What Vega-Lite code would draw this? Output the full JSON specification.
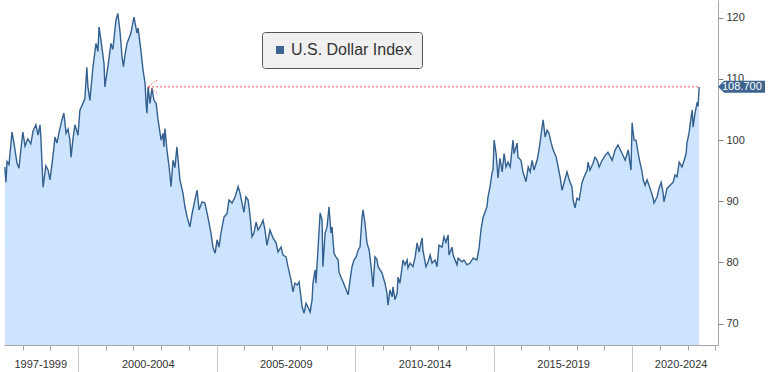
{
 "$schema": "https://vega.github.io/schema/vega-lite/v6.json",
 "width": 714,
 "height": 345,
 "autosize": "none",
 "padding": {"left": 4, "top": 0, "right": 50, "bottom": 27},
 "background": "white",
 "config": {"view": {"stroke": null}, "font": "Liberation Sans"},
 "resolve": {"axis": {"x": "independent"}},
 "datasets": {
  "dxy": [
   {"year":1997.36,"value":95.6},{"year":1997.40,"value":93.1},{"year":1997.44,"value":96.5},{"year":1997.51,"value":96.0},{"year":1997.62,"value":101.3},{"year":1997.69,"value":99.5},{"year":1997.80,"value":96.2},{"year":1997.87,"value":95.4},{"year":1997.94,"value":98.5},{"year":1998.01,"value":101.3},{"year":1998.09,"value":99.0},{"year":1998.19,"value":100.2},{"year":1998.30,"value":99.4},{"year":1998.38,"value":101.5},{"year":1998.48,"value":102.5},{"year":1998.56,"value":100.8},{"year":1998.63,"value":102.5},{"year":1998.66,"value":100.5},{"year":1998.74,"value":92.3},{"year":1998.84,"value":95.8},{"year":1998.92,"value":95.1},{"year":1998.99,"value":93.5},
   {"year":1999.10,"value":97.5},{"year":1999.17,"value":100.5},{"year":1999.24,"value":99.5},{"year":1999.31,"value":101.1},{"year":1999.42,"value":103.3},{"year":1999.49,"value":104.4},{"year":1999.57,"value":101.1},{"year":1999.64,"value":101.8},{"year":1999.71,"value":100.0},{"year":1999.75,"value":97.2},{"year":1999.82,"value":100.2},{"year":1999.89,"value":102.5},
   {"year":2000.00,"value":100.8},{"year":2000.07,"value":104.9},{"year":2000.18,"value":106.0},{"year":2000.25,"value":106.8},{"year":2000.32,"value":111.9},{"year":2000.36,"value":108.7},{"year":2000.43,"value":106.5},{"year":2000.54,"value":111.9},{"year":2000.65,"value":115.8},{"year":2000.72,"value":114.5},{"year":2000.76,"value":118.5},{"year":2000.83,"value":116.3},{"year":2000.94,"value":112.5},{"year":2000.97,"value":108.7},
   {"year":2001.08,"value":112.0},{"year":2001.19,"value":115.8},{"year":2001.26,"value":114.8},{"year":2001.37,"value":119.6},{"year":2001.44,"value":120.7},{"year":2001.52,"value":117.6},{"year":2001.59,"value":113.6},{"year":2001.64,"value":112.0},{"year":2001.70,"value":114.0},{"year":2001.77,"value":115.8},{"year":2001.91,"value":117.5},
   {"year":2002.02,"value":120.1},{"year":2002.13,"value":117.5},{"year":2002.17,"value":118.3},{"year":2002.27,"value":114.7},{"year":2002.35,"value":111.4},{"year":2002.42,"value":109.3},{"year":2002.46,"value":106.0},{"year":2002.49,"value":104.4},{"year":2002.53,"value":108.7},{"year":2002.60,"value":106.0},{"year":2002.67,"value":108.5},{"year":2002.74,"value":106.5},{"year":2002.82,"value":106.0},{"year":2002.89,"value":103.3},
   {"year":2003.00,"value":100.0},{"year":2003.07,"value":101.1},{"year":2003.10,"value":98.9},{"year":2003.14,"value":101.9},{"year":2003.21,"value":98.4},{"year":2003.29,"value":95.6},{"year":2003.36,"value":92.4},{"year":2003.43,"value":96.7},{"year":2003.50,"value":95.5},{"year":2003.57,"value":98.9},{"year":2003.68,"value":93.5},{"year":2003.79,"value":91.3},{"year":2003.86,"value":89.1},{"year":2003.94,"value":87.4},
   {"year":2004.04,"value":85.8},{"year":2004.12,"value":88.0},{"year":2004.22,"value":90.2},{"year":2004.30,"value":91.8},{"year":2004.37,"value":88.6},{"year":2004.48,"value":89.9},{"year":2004.58,"value":89.7},{"year":2004.69,"value":87.4},{"year":2004.80,"value":84.8},{"year":2004.87,"value":82.5},{"year":2004.95,"value":81.5},
   {"year":2005.02,"value":83.7},{"year":2005.09,"value":82.5},{"year":2005.16,"value":84.8},{"year":2005.27,"value":87.4},{"year":2005.38,"value":88.0},{"year":2005.45,"value":90.2},{"year":2005.56,"value":89.7},{"year":2005.67,"value":90.7},{"year":2005.78,"value":92.4},{"year":2005.85,"value":91.3},{"year":2005.92,"value":89.7},{"year":2005.99,"value":88.2},
   {"year":2006.06,"value":90.7},{"year":2006.14,"value":90.2},{"year":2006.21,"value":87.7},{"year":2006.28,"value":84.2},{"year":2006.35,"value":84.8},{"year":2006.43,"value":86.6},{"year":2006.50,"value":85.3},{"year":2006.57,"value":85.8},{"year":2006.68,"value":86.9},{"year":2006.75,"value":85.3},{"year":2006.82,"value":82.8},{"year":2006.93,"value":85.3},
   {"year":2007.04,"value":84.0},{"year":2007.15,"value":83.2},{"year":2007.22,"value":81.7},{"year":2007.33,"value":82.5},{"year":2007.40,"value":81.2},{"year":2007.51,"value":80.9},{"year":2007.58,"value":79.3},{"year":2007.69,"value":77.1},{"year":2007.76,"value":75.2},{"year":2007.83,"value":76.6},{"year":2007.91,"value":76.3},{"year":2007.98,"value":76.8},
   {"year":2008.05,"value":74.3},{"year":2008.09,"value":72.7},{"year":2008.16,"value":71.7},{"year":2008.23,"value":73.3},{"year":2008.30,"value":72.7},{"year":2008.38,"value":71.9},{"year":2008.45,"value":73.9},{"year":2008.48,"value":76.6},{"year":2008.56,"value":78.8},{"year":2008.59,"value":76.6},{"year":2008.66,"value":82.0},{"year":2008.74,"value":88.1},{"year":2008.81,"value":86.9},{"year":2008.84,"value":79.3},{"year":2008.92,"value":84.8},{"year":2008.99,"value":85.8},
   {"year":2009.06,"value":89.1},{"year":2009.13,"value":84.8},{"year":2009.17,"value":85.8},{"year":2009.24,"value":81.5},{"year":2009.31,"value":80.9},{"year":2009.39,"value":80.4},{"year":2009.42,"value":78.4},{"year":2009.49,"value":77.6},{"year":2009.57,"value":76.8},{"year":2009.64,"value":76.0},{"year":2009.75,"value":74.7},{"year":2009.82,"value":77.1},{"year":2009.89,"value":79.3},{"year":2009.96,"value":80.4},
   {"year":2010.04,"value":80.9},{"year":2010.11,"value":82.0},{"year":2010.18,"value":82.5},{"year":2010.25,"value":87.2},{"year":2010.29,"value":88.6},{"year":2010.36,"value":86.4},{"year":2010.43,"value":83.2},{"year":2010.51,"value":82.0},{"year":2010.58,"value":79.3},{"year":2010.65,"value":76.0},{"year":2010.72,"value":80.9},{"year":2010.79,"value":80.5},{"year":2010.83,"value":79.3},{"year":2010.97,"value":78.3},
   {"year":2011.08,"value":76.6},{"year":2011.15,"value":75.0},{"year":2011.19,"value":73.0},{"year":2011.26,"value":75.5},{"year":2011.34,"value":74.4},{"year":2011.37,"value":76.0},{"year":2011.44,"value":73.9},{"year":2011.52,"value":75.0},{"year":2011.55,"value":77.6},{"year":2011.62,"value":76.6},{"year":2011.70,"value":79.3},{"year":2011.73,"value":80.4},{"year":2011.80,"value":79.6},{"year":2011.88,"value":80.4},{"year":2011.91,"value":79.1},{"year":2011.99,"value":79.9},
   {"year":2012.09,"value":79.3},{"year":2012.17,"value":80.9},{"year":2012.24,"value":83.2},{"year":2012.31,"value":81.7},{"year":2012.42,"value":84.0},{"year":2012.45,"value":82.0},{"year":2012.56,"value":79.3},{"year":2012.64,"value":80.1},{"year":2012.71,"value":81.2},{"year":2012.78,"value":79.9},{"year":2012.89,"value":80.4},{"year":2012.96,"value":79.3},
   {"year":2013.03,"value":82.8},{"year":2013.14,"value":82.5},{"year":2013.21,"value":84.2},{"year":2013.28,"value":83.3},{"year":2013.36,"value":84.5},{"year":2013.39,"value":81.2},{"year":2013.50,"value":82.5},{"year":2013.54,"value":81.2},{"year":2013.68,"value":79.6},{"year":2013.72,"value":80.7},{"year":2013.86,"value":80.1},{"year":2013.93,"value":80.4},
   {"year":2014.04,"value":79.6},{"year":2014.15,"value":79.9},{"year":2014.26,"value":80.7},{"year":2014.40,"value":80.4},{"year":2014.48,"value":82.5},{"year":2014.55,"value":85.5},{"year":2014.62,"value":87.3},{"year":2014.76,"value":89.1},{"year":2014.80,"value":90.7},{"year":2014.87,"value":92.3},{"year":2014.95,"value":94.8},{"year":2014.98,"value":95.1},
   {"year":2015.02,"value":100.0},{"year":2015.09,"value":97.8},{"year":2015.13,"value":95.6},{"year":2015.16,"value":93.8},{"year":2015.23,"value":97.0},{"year":2015.31,"value":94.8},{"year":2015.38,"value":97.8},{"year":2015.45,"value":95.6},{"year":2015.52,"value":96.4},{"year":2015.60,"value":95.6},{"year":2015.70,"value":100.0},{"year":2015.74,"value":97.8},{"year":2015.85,"value":99.5},{"year":2015.88,"value":97.2},{"year":2015.99,"value":96.7},
   {"year":2016.06,"value":94.8},{"year":2016.17,"value":93.2},{"year":2016.25,"value":95.6},{"year":2016.32,"value":94.8},{"year":2016.39,"value":96.7},{"year":2016.46,"value":95.1},{"year":2016.57,"value":96.7},{"year":2016.64,"value":98.4},{"year":2016.75,"value":102.1},{"year":2016.79,"value":103.3},{"year":2016.86,"value":100.5},{"year":2016.93,"value":101.6},
   {"year":2017.00,"value":101.1},{"year":2017.08,"value":99.5},{"year":2017.15,"value":98.4},{"year":2017.26,"value":97.2},{"year":2017.33,"value":95.6},{"year":2017.40,"value":94.0},{"year":2017.47,"value":91.8},{"year":2017.55,"value":93.1},{"year":2017.65,"value":94.8},{"year":2017.73,"value":93.5},{"year":2017.83,"value":92.3},{"year":2017.87,"value":90.2},{"year":2017.94,"value":88.9},
   {"year":2018.01,"value":90.5},{"year":2018.09,"value":90.2},{"year":2018.19,"value":93.0},{"year":2018.27,"value":94.0},{"year":2018.38,"value":95.1},{"year":2018.41,"value":96.4},{"year":2018.48,"value":95.1},{"year":2018.59,"value":96.2},{"year":2018.66,"value":97.2},{"year":2018.74,"value":96.7},{"year":2018.81,"value":95.6},{"year":2018.92,"value":96.7},
   {"year":2019.03,"value":97.5},{"year":2019.13,"value":98.0},{"year":2019.28,"value":96.7},{"year":2019.39,"value":98.4},{"year":2019.49,"value":99.2},{"year":2019.64,"value":97.8},{"year":2019.75,"value":96.7},{"year":2019.86,"value":98.4},{"year":2019.96,"value":95.1},
   {"year":2020.00,"value":102.8},{"year":2020.07,"value":100.0},{"year":2020.14,"value":100.0},{"year":2020.22,"value":97.8},{"year":2020.29,"value":96.2},{"year":2020.36,"value":94.8},{"year":2020.40,"value":93.5},{"year":2020.47,"value":92.6},{"year":2020.54,"value":93.5},{"year":2020.65,"value":92.1},{"year":2020.76,"value":90.5},{"year":2020.79,"value":89.7},{"year":2020.90,"value":90.7},{"year":2020.97,"value":92.1},
   {"year":2021.05,"value":93.1},{"year":2021.12,"value":91.3},{"year":2021.15,"value":89.9},{"year":2021.26,"value":92.1},{"year":2021.37,"value":92.6},{"year":2021.48,"value":93.1},{"year":2021.55,"value":94.3},{"year":2021.62,"value":94.0},{"year":2021.70,"value":96.4},{"year":2021.80,"value":95.6},{"year":2021.88,"value":96.7},{"year":2021.95,"value":97.8},{"year":2021.98,"value":99.5},
   {"year":2022.06,"value":101.3},{"year":2022.13,"value":103.8},{"year":2022.17,"value":104.9},{"year":2022.20,"value":102.1},{"year":2022.27,"value":104.4},{"year":2022.35,"value":106.2},{"year":2022.38,"value":105.5},{"year":2022.42,"value":108.7}
  ],
  "level": [{"start": 2002.53, "end": 2022.42, "value": 108.7}]
 },
 "layer": [
  {
   "data": {"name": "dxy"},
   "mark": {"type": "area", "color": "#cce4fd", "clip": true},
   "encoding": {
    "x": {"field": "year", "type": "quantitative",
     "scale": {"domain": [1997.33, 2023.1], "nice": false, "zero": false},
     "axis": {
      "orient": "bottom",
      "values": [1998,1999,2001,2002,2003,2004,2006,2007,2008,2009,2011,2012,2013,2014,2016,2017,2018,2019,2021,2022,2023],
      "title": null, "grid": false, "labels": false,
      "domainColor": "#a6a6a6", "domainWidth": 1,
      "tickColor": "#a6a6a6", "tickSize": 5, "zindex": 0
     }
    },
    "y": {"field": "value", "type": "quantitative",
     "scale": {"domain": [66.5, 122.9], "nice": false, "zero": false},
     "axis": {
      "orient": "right", "values": [70,75,80,85,90,95,100,105,110,115,120],
      "labelExpr": "datum.value % 10 === 0 ? datum.label : ''",
      "title": null, "grid": false, "tickSize": 5, "tickColor": "#7f7f7f",
      "domainColor": "#a6a6a6", "labelPadding": 3, "labelFontSize": 11,
      "labelColor": "#333333", "labelFont": "Liberation Sans", "labelFlush": false, "zindex": 0
     }
    },
    "y2": {"value": "height"}
   }
  },
  {
   "data": {"name": "dxy"},
   "mark": {"type": "line", "strokeWidth": 1.4, "clip": true},
   "encoding": {
    "x": {"field": "year", "type": "quantitative",
     "axis": {
      "orient": "bottom",
      "values": [2000, 2005, 2010, 2015, 2020],
      "title": null, "grid": false, "labels": false, "domain": false,
      "tickColor": "#c8c8c8", "tickSize": 27, "zindex": 0
     }
    },
    "y": {"field": "value", "type": "quantitative"},
    "color": {"datum": "U.S. Dollar Index", "type": "nominal",
     "scale": {"range": ["#33608e"]},
     "legend": {
      "orient": "none", "legendX": 258, "legendY": 32, "title": null,
      "fillColor": "#f0f0f0", "strokeColor": "#555555", "cornerRadius": 3, "padding": 10,
      "symbolType": "square", "symbolSize": 64, "symbolFillColor": "#3b6591", "symbolStrokeWidth": 0,
      "labelFontSize": 16, "labelFont": "Liberation Sans", "labelColor": "#333333", "labelOffset": 3,
      "encode": {"symbols": {"update": {"fill": {"value": "#3b6591"}, "shape": {"value": "square"}, "strokeWidth": {"value": 0}}}}
     }
    }
   }
  },
  {
   "data": {"name": "level"},
   "mark": {"type": "rule", "color": "#ff5a5a", "strokeDash": [2, 2], "strokeWidth": 1},
   "encoding": {
    "x": {"field": "start", "type": "quantitative",
     "axis": {
      "orient": "bottom",
      "values": [1998.64, 2002.52, 2007.5, 2012.51, 2017.51, 2021.75],
      "title": null, "grid": false, "ticks": false, "domain": false,
      "labelExpr": "datum.value < 2000 ? '1997-1999' : (datum.value > 2020 ? '2020-2024' : format(floor(datum.value) - 2, 'd') + '-' + format(floor(datum.value) + 2, 'd'))",
      "labelPadding": 13, "labelFontSize": 11, "labelColor": "#333333", "labelFont": "Liberation Sans",
      "labelOverlap": false, "labelFlush": false, "zindex": 0
     }
    },
    "x2": {"field": "end"},
    "y": {"field": "value", "type": "quantitative"}
   }
  },
  {
   "data": {"name": "level"},
   "mark": {"type": "point", "shape": "M3,-2.2L0,0L3,2.2", "size": 36, "filled": false, "color": "#ff5a5a", "strokeDash": [1.5, 1.5], "strokeWidth": 1, "opacity": 1},
   "encoding": {
    "x": {"field": "start", "type": "quantitative", "axis": null},
    "y": {"field": "value", "type": "quantitative"}
   }
  },
  {
   "data": {"name": "level"},
   "mark": {"type": "point", "shape": "M0,0L0.6,-0.6L4.7,-0.6L4.7,0.6L0.6,0.6Z", "size": 400, "filled": true, "color": "#3e6590", "opacity": 1, "clip": false},
   "encoding": {
    "x": {"value": "width"},
    "y": {"field": "value", "type": "quantitative"}
   }
  },
  {
   "data": {"name": "level"},
   "mark": {"type": "text", "align": "left", "baseline": "middle", "dx": 4, "color": "white", "fontSize": 11, "font": "Liberation Sans"},
   "encoding": {
    "x": {"value": "width"},
    "y": {"field": "value", "type": "quantitative"},
    "text": {"field": "value", "type": "quantitative", "format": ".3f"}
   }
  }
 ]
}
